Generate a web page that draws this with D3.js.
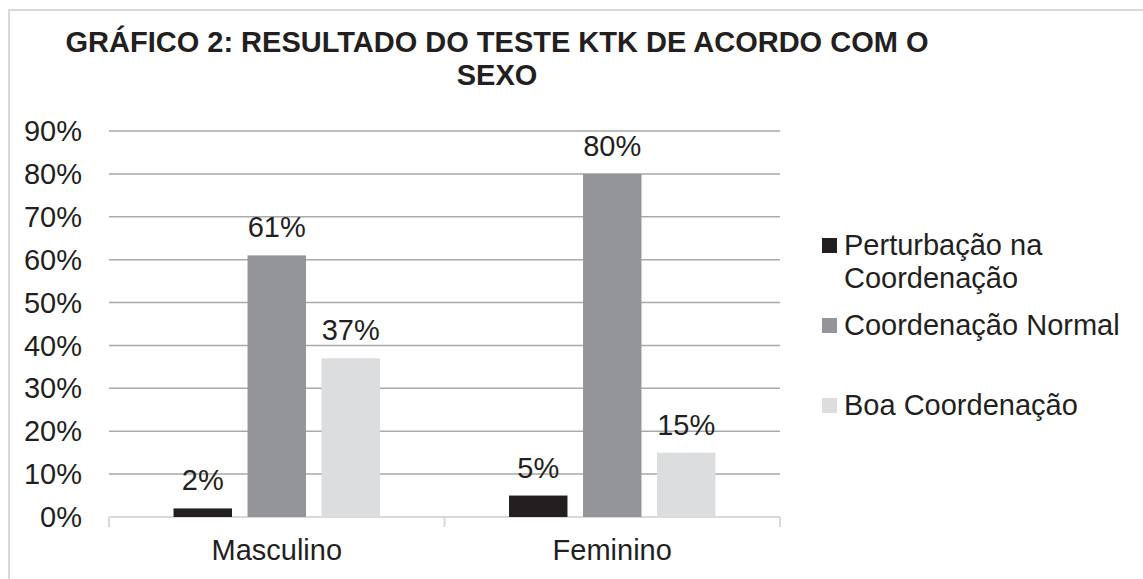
<!DOCTYPE html>
<html>
<head>
<meta charset="utf-8">
<script src="https://cdn.jsdelivr.net/npm/d3@7/dist/d3.min.js"></script>
<style>
  body { margin: 0; background: #fff; }
  text { font-family: "Liberation Sans", Arial, sans-serif; fill: #231f20; }
</style>
</head>
<body>
<svg id="chart" width="1143" height="579"></svg>
<script>
const categories = ["Masculino", "Feminino"]
const series = ["Perturbação na Coordenação", "Coordenação Normal", "Boa Coordenação"]
const legendLines = [["Perturbação na", "Coordenação"], ["Coordenação Normal"], ["Boa Coordenação"]]
const values = {
  "Masculino": [2, 61, 37],
  "Feminino": [5, 80, 15]
}
const yTicks = [0, 10, 20, 30, 40, 50, 60, 70, 80, 90]
const colors = ["#231f20", "#939598", "#dcdddf"]

const svg = d3.select("#chart")
const fs = 29

// frame (cut off on right and bottom like the source)
svg.append("path")
  .attr("d", "M9,579 V10 H1143")
  .attr("fill", "none")
  .attr("stroke", "#d9d9d9")
  .attr("stroke-width", 2)

// title
const title = svg.append("text")
  .attr("text-anchor", "middle")
  .style("font-weight", "bold")
  .style("font-size", fs + "px")
title.append("tspan").attr("x", 497).attr("y", 52).text("GRÁFICO 2: RESULTADO DO TESTE KTK DE ACORDO COM O")
title.append("tspan").attr("x", 497).attr("y", 85).text("SEXO")

const plotL = 109, plotR = 780, plotT = 131, plotB = 517

const x = d3.scaleBand().domain(categories).range([plotL, plotR]).paddingInner(0).paddingOuter(0)
const xs = d3.scaleBand().domain(series).range([0, x.bandwidth()]).paddingInner(0.21).paddingOuter(0.872)
const y = d3.scaleLinear().domain([0, 90]).range([plotB, plotT])

// gridlines
svg.append("g")
  .selectAll("line")
  .data(yTicks.filter(d => d > 0))
  .join("line")
  .attr("x1", plotL).attr("x2", plotR)
  .attr("y1", d => y(d)).attr("y2", d => y(d))
  .attr("stroke", "#a7a9ac")
  .attr("stroke-width", 1.5)

// y labels
svg.append("g")
  .selectAll("text")
  .data(yTicks)
  .join("text")
  .attr("x", 82)
  .attr("y", d => y(d))
  .attr("dy", "0.35em")
  .attr("text-anchor", "end")
  .style("font-size", fs + "px")
  .text(d => d + "%")

// x axis
const xAxis = svg.append("g").attr("transform", `translate(0,${plotB})`)
xAxis.append("line")
  .attr("x1", plotL).attr("x2", plotR)
  .attr("stroke", "#d9d9d9").attr("stroke-width", 2)
xAxis.selectAll(".tick")
  .data([plotL, plotL + x.bandwidth(), plotR])
  .join("line")
  .attr("class", "tick")
  .attr("x1", d => d).attr("x2", d => d)
  .attr("y1", 0).attr("y2", 10)
  .attr("stroke", "#d9d9d9").attr("stroke-width", 2)
xAxis.selectAll("text")
  .data(categories)
  .join("text")
  .attr("x", d => x(d) + x.bandwidth() / 2)
  .attr("y", 43)
  .attr("text-anchor", "middle")
  .style("font-size", fs + "px")
  .text(d => d)

// bars
const groups = svg.append("g")
  .selectAll("g")
  .data(categories)
  .join("g")
  .attr("transform", d => `translate(${x(d)},0)`)

const items = d => series.map((s, i) => ({s, i, v: values[d][i]}))

groups.selectAll("rect")
  .data(items)
  .join("rect")
  .attr("x", d => xs(d.s))
  .attr("width", xs.bandwidth())
  .attr("y", d => y(d.v))
  .attr("height", d => plotB - y(d.v))
  .attr("fill", d => colors[d.i])

groups.selectAll("text")
  .data(items)
  .join("text")
  .attr("x", d => xs(d.s) + xs.bandwidth() / 2)
  .attr("y", d => y(d.v) - 18)
  .attr("text-anchor", "middle")
  .style("font-size", fs + "px")
  .text(d => d.v + "%")

// legend
const legendY = [255, 335, 415]
const legend = svg.append("g")
  .selectAll("g")
  .data(series)
  .join("g")
  .attr("transform", (d, i) => `translate(822,${legendY[i]})`)

legend.append("rect")
  .attr("x", 0).attr("y", -17)
  .attr("width", 15).attr("height", 15)
  .attr("fill", (d, i) => colors[i])

legend.append("text")
  .style("font-size", fs + "px")
  .each(function(d, i) {
    d3.select(this).selectAll("tspan")
      .data(legendLines[i])
      .join("tspan")
      .attr("x", 22)
      .attr("y", (t, j) => j * 33)
      .text(t => t)
  })
</script>
</body>
</html>
